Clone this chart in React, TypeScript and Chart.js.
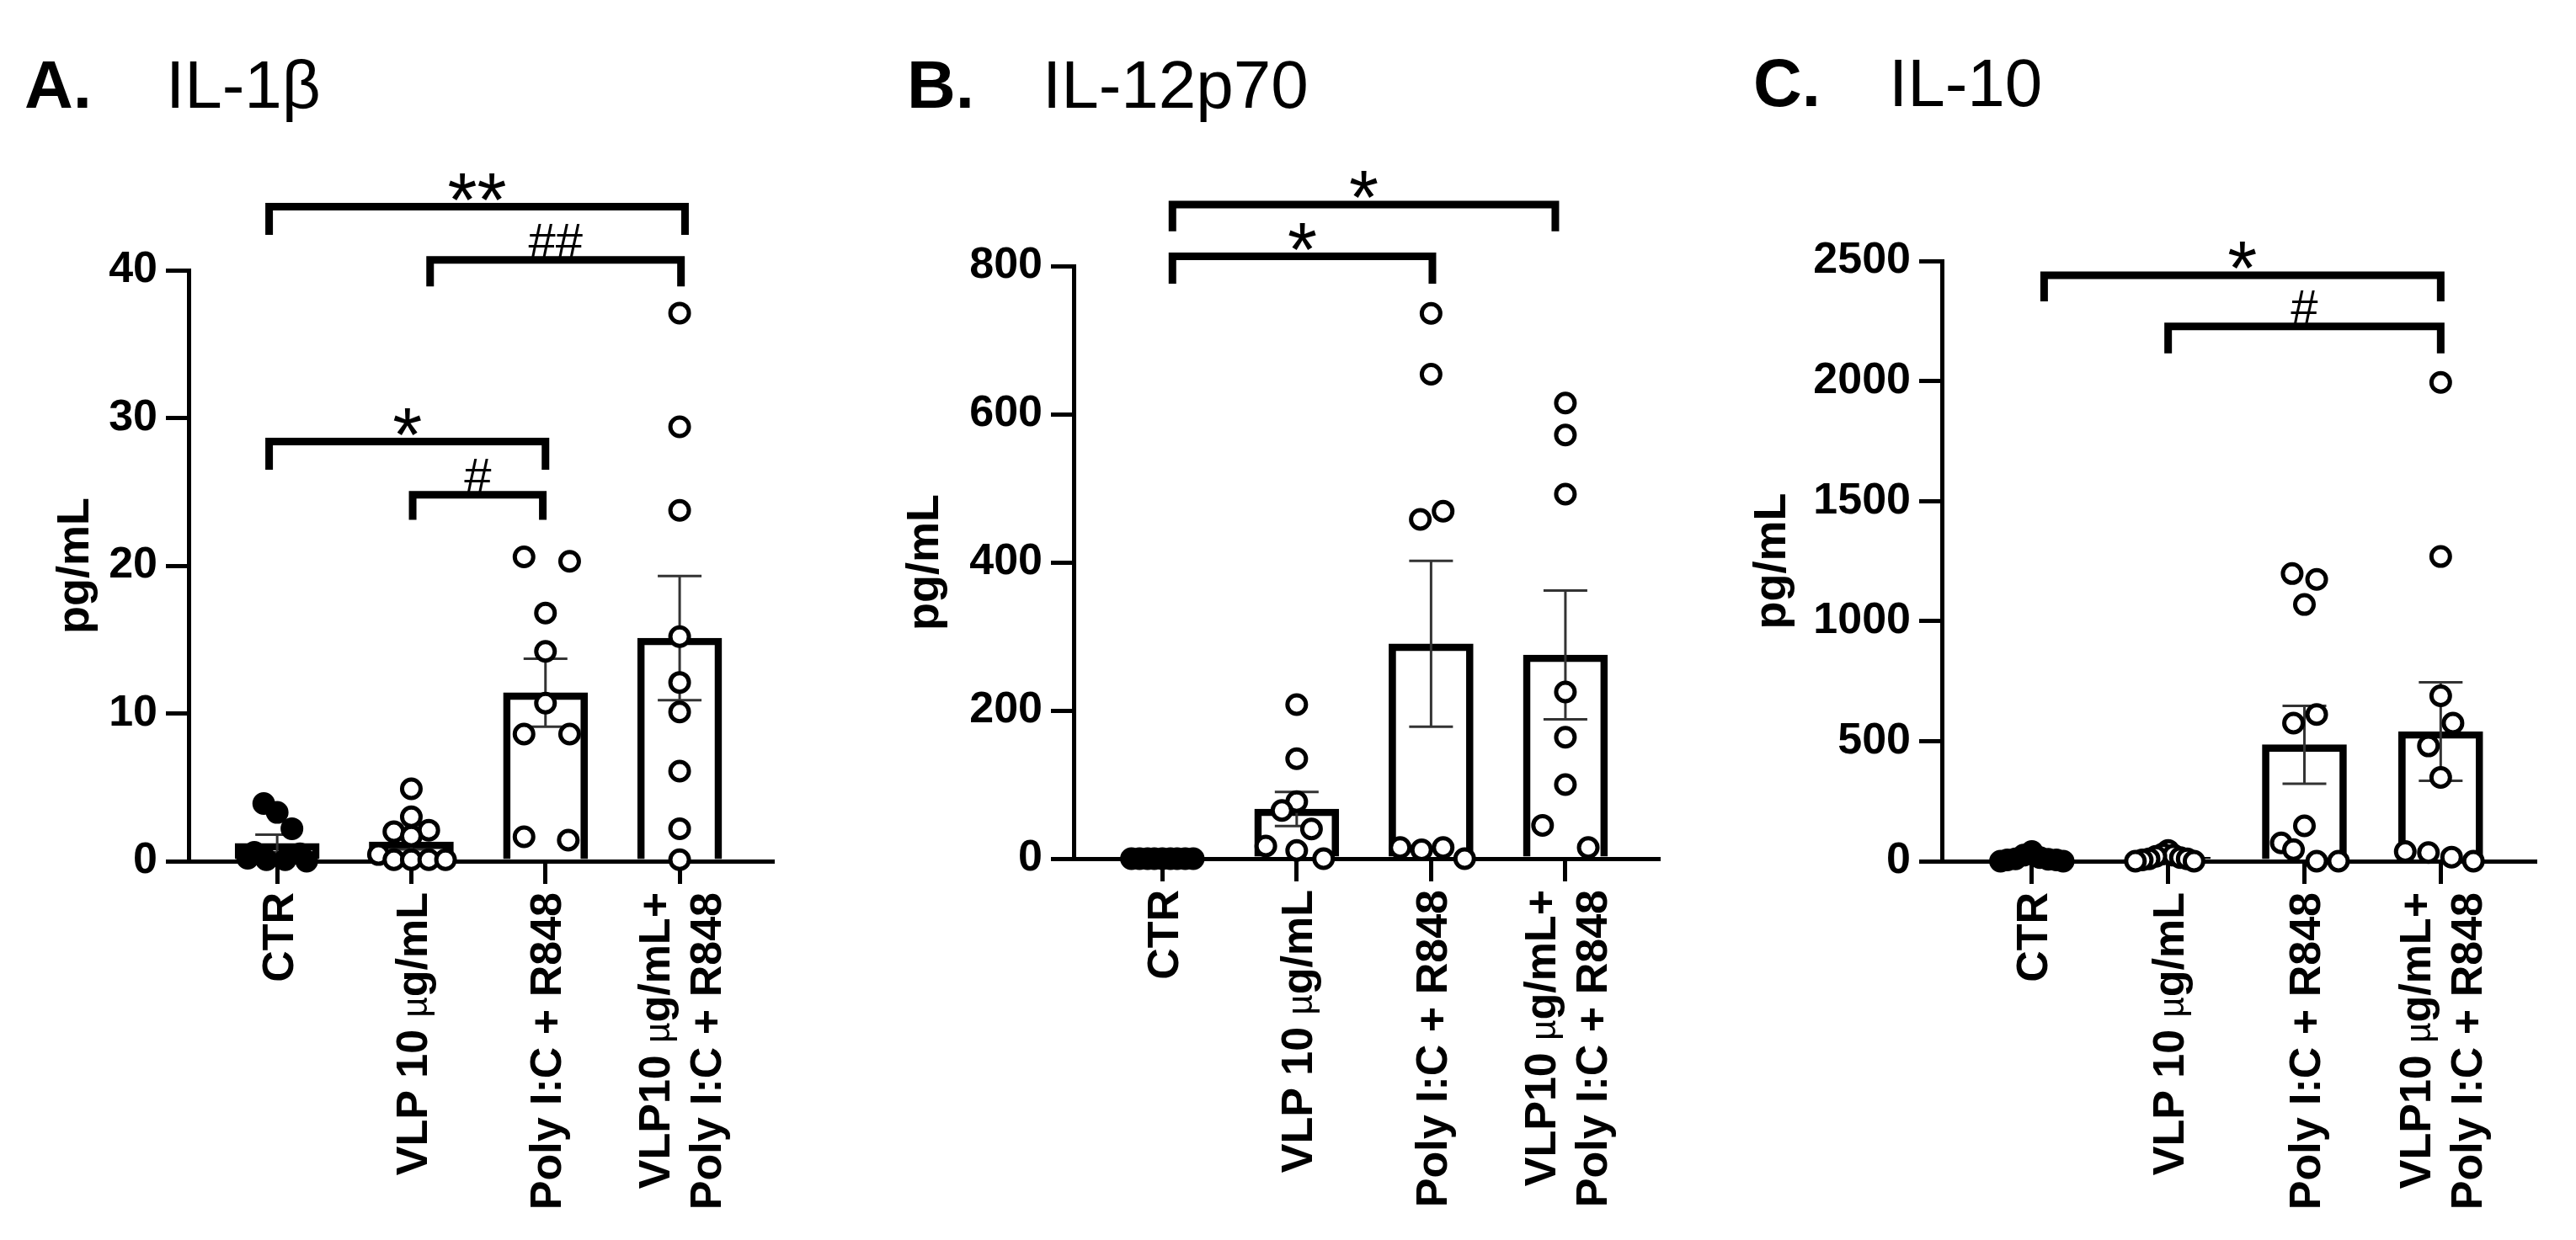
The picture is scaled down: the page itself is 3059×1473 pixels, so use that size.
import React, { useEffect, useRef } from "react";
import { Chart, registerables } from "chart.js";

Chart.register(...registerables);

const FONT = "'Liberation Sans', Arial, Helvetica, sans-serif";
Chart.defaults.font.family = FONT;
Chart.defaults.color = "#000";

// ---------- shared categories ----------
const categoryLabels: string[][] = [
  ["CTR"],
  ["VLP 10 µg/mL"],
  ["Poly I:C + R848"],
  ["VLP10 µg/mL+", "Poly I:C + R848"],
];

// ---------- Panel A: IL-1β ----------
const il1bMeans = [1.2, 1.3, 11.4, 15.1];
const il1bSem = [0.6, 0.5, 2.3, 4.2];
const il1bPoints = [
  [3.9, 3.3, 2.2, 0.6, 0.5, 0.2, 0.1, 0.1, 0.0],
  [4.9, 3.0, 2.0, 2.1, 1.7, 0.45, 0.1, 0.1, 0.1, 0.1],
  [20.6, 20.3, 16.8, 14.2, 10.7, 8.6, 8.6, 1.65, 1.42],
  [37.1, 29.4, 23.75, 15.2, 12.1, 10.1, 6.1, 2.2, 0.1],
];
const il1bJitter = [
  [-0.1, 0.0, 0.11, -0.17, 0.17, -0.22, -0.08, 0.06, 0.22],
  [0, 0, -0.13, 0.13, 0, -0.245, -0.13, 0, 0.13, 0.255],
  [-0.16, 0.18, 0, 0, 0, -0.16, 0.18, -0.16, 0.17],
  [0, 0, 0, 0, 0, 0, 0, 0, 0],
];
const il1bTicks = { max: 40, step: 10 };
const il1bBrackets = [
  { from: -0.06, to: 3.04, y: 44.3, drop: 1.9, label: "**" },
  { from: 1.14, to: 3.01, y: 40.7, drop: 1.8, label: "##" },
  { from: -0.06, to: 2.0, y: 28.4, drop: 1.9, label: "*" },
  { from: 1.01, to: 1.98, y: 24.8, drop: 1.7, label: "#" },
];

// ---------- Panel B: IL-12p70 ----------
const il12Means = [0, 67, 290, 275];
const il12Sem = [0, 23, 112, 87];
const il12Points = [
  [0, 0, 0, 0, 0, 0, 0, 0, 0],
  [208, 135, 77, 65, 40, 17, 11, 0],
  [736, 654, 469, 458, 15, 12, 15, 0],
  [615, 572, 492, 225, 164, 100, 45, 15],
];
const il12Jitter = [
  [-0.23, -0.17, -0.11, -0.06, 0, 0.06, 0.11, 0.17, 0.23],
  [0, 0, 0, -0.11, 0.11, -0.23, 0, 0.2],
  [0, 0, 0.09, -0.08, -0.23, -0.07, 0.09, 0.25],
  [0, 0, 0, 0, 0, 0, -0.17, 0.17],
];
const il12Ticks = { max: 800, step: 200 };
const il12Brackets = [
  { from: 0.075, to: 2.925, y: 883, drop: 36, label: "*" },
  { from: 0.075, to: 2.01, y: 813, drop: 37, label: "*" },
];

// ---------- Panel C: IL-10 ----------
const il10Means = [12, 16, 485, 540];
const il10Sem = [4, 5, 162, 205];
const il10Points = [
  [40, 25, 15, 10, 8, 5, 5, 0, 0],
  [45, 30, 25, 20, 15, 10, 10, 5, 0, 0],
  [1198, 1174, 1069, 611, 575, 147, 76, 48, 0, 0],
  [1994, 1269, 689, 575, 480, 349, 40, 36, 17, 0],
];
const il10Jitter = [
  [0, -0.06, 0.06, -0.12, 0.12, -0.18, 0.18, -0.23, 0.23],
  [0, -0.04, 0.04, -0.09, 0.09, -0.14, 0.14, -0.19, 0.19, -0.24],
  [-0.09, 0.09, 0, 0.09, -0.08, 0, -0.17, -0.08, 0.09, 0.25],
  [0, 0, 0, 0.09, -0.09, 0, -0.26, -0.09, 0.08, 0.24],
];
const il10Ticks = { max: 2500, step: 500 };
const il10Brackets = [
  { from: 0.09, to: 3.0, y: 2440, drop: 108, label: "*" },
  { from: 1.0, to: 3.0, y: 2227, drop: 112, label: "#" },
];

type Bracket = { from: number; to: number; y: number; drop: number; label: string };
type Geom = {
  left: number;
  width: number;
  plotLeft: number;
  plotRight: number;
  plotTop: number;
  plotBottom: number;
  yTitleX: number;
  letterX: number;
  nameX: number;
  titleBaseline: number;
};
type Panel = {
  letter: string;
  cytokine: string;
  means: number[];
  sem: number[];
  points: number[][];
  jitter: number[][];
  ticks: { max: number; step: number };
  brackets: Bracket[];
  geom: Geom;
};

const H = 1473;

const panels: Panel[] = [
  {
    letter: "A.",
    cytokine: "IL-1β",
    means: il1bMeans,
    sem: il1bSem,
    points: il1bPoints,
    jitter: il1bJitter,
    ticks: il1bTicks,
    brackets: il1bBrackets,
    geom: { left: 0, width: 1000, plotLeft: 224, plotRight: 917, plotTop: 321, plotBottom: 1023, yTitleX: 90, letterX: 29, nameX: 197, titleBaseline: 128 },
  },
  {
    letter: "B.",
    cytokine: "IL-12p70",
    means: il12Means,
    sem: il12Sem,
    points: il12Points,
    jitter: il12Jitter,
    ticks: il12Ticks,
    brackets: il12Brackets,
    geom: { left: 1000, width: 1030, plotLeft: 275, plotRight: 969, plotTop: 316, plotBottom: 1020, yTitleX: 99, letterX: 77, nameX: 238, titleBaseline: 128 },
  },
  {
    letter: "C.",
    cytokine: "IL-10",
    means: il10Means,
    sem: il10Sem,
    points: il10Points,
    jitter: il10Jitter,
    ticks: il10Ticks,
    brackets: il10Brackets,
    geom: { left: 2030, width: 1029, plotLeft: 276, plotRight: 980, plotTop: 310, plotBottom: 1023, yTitleX: 75, letterX: 52, nameX: 213, titleBaseline: 126 },
  },
];

const LABEL_FONT = `bold 52px ${FONT}`;
const MU_FONT = `42px ${FONT}`;

// draw a label right-aligned at (0,0) in the current (rotated) frame; µ is set lighter and smaller
function drawLabelLine(ctx: CanvasRenderingContext2D, line: string) {
  const parts = line.split(/(µ)/).filter((p) => p.length > 0);
  const widths = parts.map((p) => {
    ctx.font = p === "µ" ? MU_FONT : LABEL_FONT;
    return ctx.measureText(p).width;
  });
  const total = widths.reduce((a, b) => a + b, 0);
  let x = -total;
  ctx.textAlign = "left";
  ctx.textBaseline = "alphabetic";
  ctx.font = LABEL_FONT;
  const capMid = 0.716 * 52 * 0.5;
  parts.forEach((p, k) => {
    ctx.font = p === "µ" ? MU_FONT : LABEL_FONT;
    ctx.fillText(p, x, capMid);
    x += widths[k];
  });
}

function PanelChart({ panel }: { panel: Panel }) {
  const ref = useRef<HTMLCanvasElement>(null);
  const g = panel.geom;

  useEffect(() => {
    const canvas = ref.current;
    if (!canvas) return;

    const scatterData: { x: number; y: number }[] = [];
    const scatterFill: string[] = [];
    panel.points.forEach((vals, i) => {
      vals.forEach((v, j) => {
        scatterData.push({ x: i + panel.jitter[i][j], y: v });
        scatterFill.push(i === 0 ? "#000" : "#fff");
      });
    });

    const decor = {
      id: "decor",
      afterDatasetDraw(chart: any, args: any) {
        if (args.index !== 0) return;
        const ctx = chart.ctx;
        const xs = chart.scales.x;
        const ys = chart.scales.y;
        ctx.save();
        ctx.strokeStyle = "#333";
        ctx.lineWidth = 3;
        const cap = 26;
        panel.means.forEach((m, i) => {
          const s = panel.sem[i];
          if (!s) return;
          const x = xs.getPixelForValue(i);
          const yT = ys.getPixelForValue(m + s);
          const yB = ys.getPixelForValue(Math.max(0, m - s));
          ctx.beginPath();
          ctx.moveTo(x, yT);
          ctx.lineTo(x, yB);
          ctx.moveTo(x - cap, yT);
          ctx.lineTo(x + cap, yT);
          ctx.moveTo(x - cap, yB);
          ctx.lineTo(x + cap, yB);
          ctx.stroke();
        });
        ctx.restore();
      },
      afterDraw(chart: any) {
        const ctx = chart.ctx;
        const xs = chart.scales.x;
        const ys = chart.scales.y;
        const area = chart.chartArea;
        ctx.save();
        ctx.fillStyle = "#000";
        ctx.textAlign = "left";
        ctx.textBaseline = "alphabetic";
        // panel title
        ctx.font = `bold 80px ${FONT}`;
        ctx.fillText(panel.letter, g.letterX, g.titleBaseline);
        ctx.font = `80px ${FONT}`;
        ctx.fillText(panel.cytokine, g.nameX, g.titleBaseline);

        // category labels (rotated)
        const lineGap = 61;
        categoryLabels.forEach((lines, i) => {
          const px = xs.getPixelForValue(i);
          const n = lines.length;
          lines.forEach((line, j) => {
            const cx = px + (j - (n - 1) / 2) * lineGap;
            ctx.save();
            ctx.translate(cx, area.bottom + 37);
            ctx.rotate(-Math.PI / 2);
            drawLabelLine(ctx, line);
            ctx.restore();
          });
        });

        // significance brackets
        ctx.strokeStyle = "#000";
        ctx.lineWidth = 9;
        ctx.lineJoin = "miter";
        ctx.lineCap = "butt";
        panel.brackets.forEach((b) => {
          const x1 = xs.getPixelForValue(b.from);
          const x2 = xs.getPixelForValue(b.to);
          const yL = ys.getPixelForValue(b.y);
          const yD = ys.getPixelForValue(b.y - b.drop);
          ctx.beginPath();
          ctx.moveTo(x1, yD);
          ctx.lineTo(x1, yL);
          ctx.lineTo(x2, yL);
          ctx.lineTo(x2, yD);
          ctx.stroke();
          const isStar = b.label.indexOf("*") >= 0;
          ctx.font = isStar ? `90px ${FONT}` : `58px ${FONT}`;
          const m = ctx.measureText(b.label);
          const targetBottom = yL - (isStar ? 8 : 3);
          const baseline = targetBottom - m.actualBoundingBoxDescent;
          ctx.textAlign = "center";
          ctx.textBaseline = "alphabetic";
          ctx.fillText(b.label, (x1 + x2) / 2, baseline);
        });
        ctx.restore();
      },
    };

    const axisCommon = {
      border: { display: true, width: 5, color: "#000" },
    };
    const gridCommon = {
      display: true,
      drawOnChartArea: false,
      drawTicks: true,
      tickLength: 27,
      lineWidth: 5,
      color: "#000",
      offset: false,
    };

    const chart = new Chart(canvas, {
      type: "bar",
      data: {
        datasets: [
          {
            type: "bar",
            data: panel.means.map((m, i) => ({ x: i, y: m })),
            backgroundColor: "rgba(255,255,255,0)",
            borderColor: "#000",
            borderWidth: 8,
            barThickness: 100,
            order: 2,
          } as any,
          {
            type: "scatter",
            data: scatterData,
            pointRadius: 11,
            pointBorderWidth: 5,
            pointBorderColor: "#000",
            pointBackgroundColor: scatterFill,
            clip: false,
            order: 1,
          } as any,
        ],
      },
      options: {
        animation: false,
        responsive: false,
        maintainAspectRatio: false,
        layout: {
          padding: { top: g.plotTop, right: g.width - g.plotRight, left: 0, bottom: 0 },
        },
        plugins: {
          legend: { display: false },
          tooltip: { enabled: false },
        },
        scales: {
          x: {
            type: "linear",
            offset: false,
            bounds: "data",
            min: -0.66,
            max: 3.69,
            afterBuildTicks: (s: any) => {
              s.ticks = categoryLabels.map((_, i) => ({ value: i }));
            },
            afterFit: (s: any) => {
              s.height = H - g.plotBottom;
            },
            ticks: { display: false },
            grid: gridCommon,
            ...axisCommon,
          },
          y: {
            type: "linear",
            offset: false,
            min: 0,
            max: panel.ticks.max,
            afterFit: (s: any) => {
              s.width = g.plotLeft;
            },
            ticks: {
              stepSize: panel.ticks.step,
              font: { family: FONT, size: 52, weight: "bold" },
              color: "#000",
              padding: 10,
              callback: (v: any) => String(v),
            },
            title: {
              display: true,
              text: "pg/mL",
              color: "#000",
              font: { family: FONT, size: 54, weight: "bold" },
              padding: { top: g.yTitleX - 32.4, bottom: 0 },
            },
            grid: gridCommon,
            ...axisCommon,
          },
        },
      } as any,
      plugins: [decor],
    });

    return () => chart.destroy();
  }, [panel]);

  return (
    <canvas
      ref={ref}
      width={g.width}
      height={H}
      style={{ position: "absolute", left: g.left, top: 0, width: g.width, height: H }}
    />
  );
}

export default function App() {
  return (
    <div
      style={{
        position: "fixed",
        left: 0,
        top: 0,
        width: 3059,
        height: H,
        background: "#fff",
        overflow: "hidden",
      }}
    >
      {panels.map((p) => (
        <PanelChart key={p.letter} panel={p} />
      ))}
    </div>
  );
}
